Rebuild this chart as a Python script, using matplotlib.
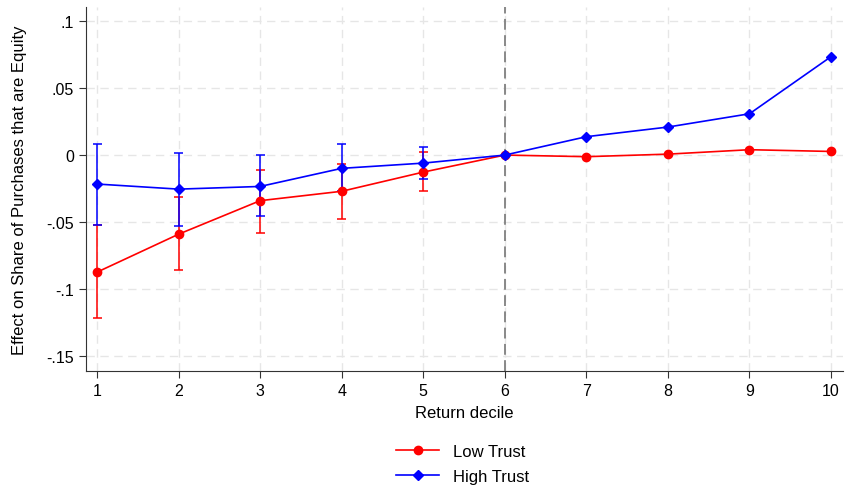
import numpy as np
import matplotlib.pyplot as plt

plt.rcParams['font.family'] = ['Liberation Sans', 'DejaVu Sans']

deciles = [1, 2, 3, 4, 5, 6, 7, 8, 9, 10]

low_est = [-0.0873, -0.059, -0.034, -0.027, -0.0127, 0.0, -0.0012, 0.0007, 0.0040, 0.0027]
low_hi = [-0.052, -0.031, -0.011, -0.007, 0.002, None, None, None, None, None]
low_lo = [-0.1216, -0.086, -0.058, -0.048, -0.027, None, None, None, None, None]

high_est = [-0.0216, -0.0254, -0.0234, -0.0099, -0.006, 0.0, 0.0137, 0.0209, 0.0308, 0.0734]
high_hi = [0.0082, 0.0015, -0.0002, 0.0082, 0.0062, None, None, None, None, None]
high_lo = [-0.052, -0.0527, -0.0458, -0.0266, -0.018, None, None, None, None, None]

yticks = [-0.15, -0.1, -0.05, 0, 0.05, 0.1]
ytick_labels = ['-.15', '-.1', '-.05', '0', '.05', '.1']

fig = plt.figure(figsize=(8.46, 4.89), dpi=100)
ax = fig.add_axes([0.1017, 0.2393, 0.8948, 0.7443])

ax.grid(True, color='#e6e6e6', linestyle=(0, (6, 4)), linewidth=1)
ax.set_axisbelow(True)
ax.axvline(6, color='#808080', linestyle=(0, (6, 3)), linewidth=1.3, zorder=1)


def draw(est, hi, lo, color, marker, ms, label):
    xs = [d for d, h in zip(deciles, hi) if h is not None]
    his = [h for h in hi if h is not None]
    los = [l for l in lo if l is not None]
    ax.vlines(xs, los, his, color=color, linewidth=1.1, zorder=3)
    ax.hlines(his + los, [x - 0.055 for x in xs] * 2, [x + 0.055 for x in xs] * 2,
              color=color, linewidth=1.1, zorder=3)
    ax.plot(deciles, est, color=color, marker=marker, markersize=ms,
            linewidth=1.2, label=label, zorder=4)


draw(low_est, low_hi, low_lo, 'red', 'o', 6, 'Low Trust')
draw(high_est, high_hi, high_lo, 'blue', 'D', 5.5, 'High Trust')

ax.set_xlim(0.865, 10.147)
ax.set_ylim(-0.161, 0.1104)
ax.set_xticks(deciles)
ax.set_yticks(yticks)
ax.set_yticklabels(ytick_labels)
ax.tick_params(labelsize=11.5, length=5, color='#333333')
for s in ['top', 'right']:
    ax.spines[s].set_visible(False)
for s in ['left', 'bottom']:
    ax.spines[s].set_color('#333333')

ax.set_xlabel('Return decile', fontsize=12, labelpad=5)
ax.set_ylabel('Effect on Share of Purchases that are Equity', fontsize=12, labelpad=14)

ax.legend(loc='upper center', bbox_to_anchor=(0.497, -0.16), frameon=False,
          fontsize=12, handlelength=2.6, labelspacing=0.6)

fig.savefig('out.png', dpi=100)
